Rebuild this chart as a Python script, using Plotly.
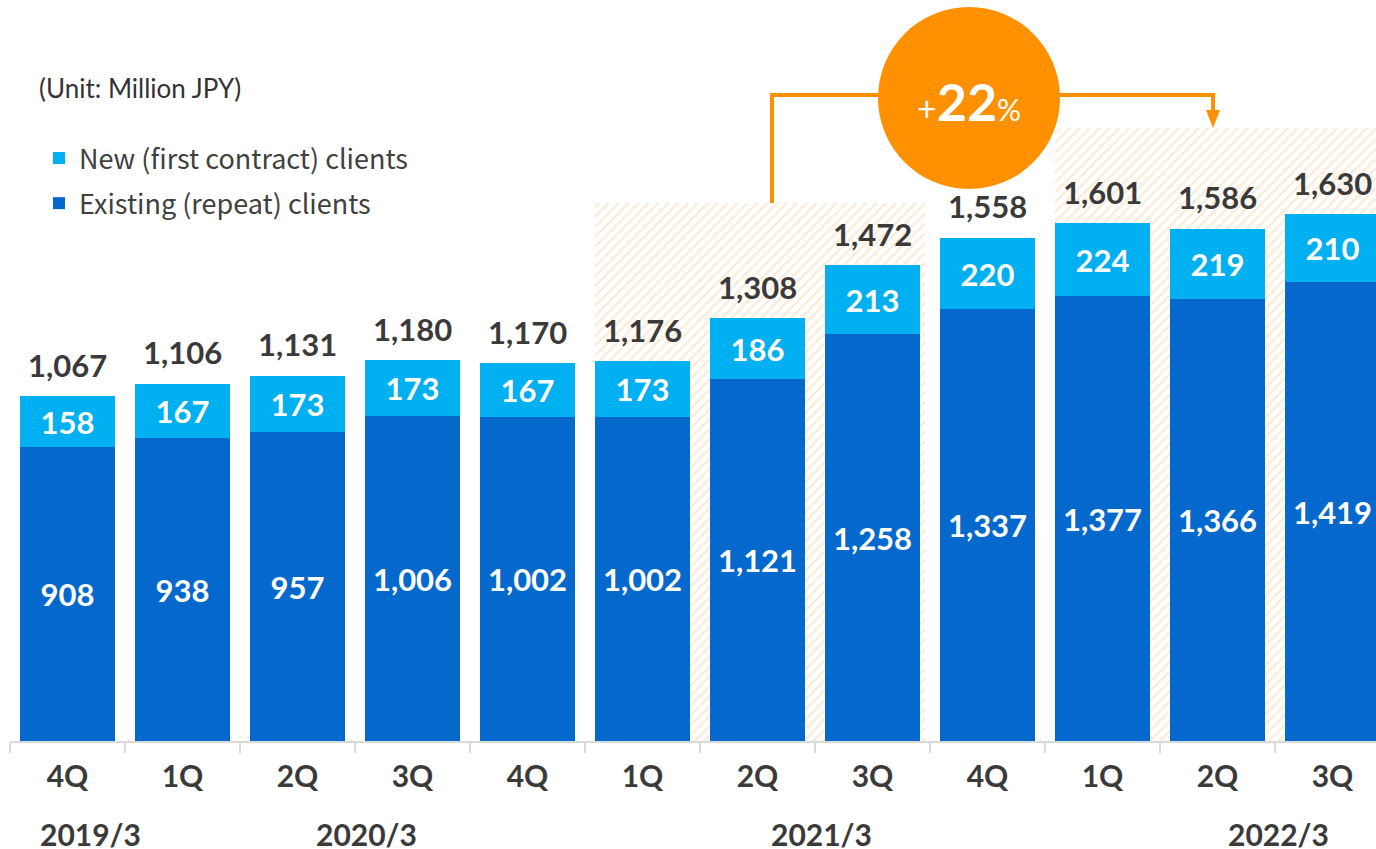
import plotly.graph_objects as go

# ---------------- data ----------------
quarters = ["4Q", "1Q", "2Q", "3Q", "4Q", "1Q", "2Q", "3Q", "4Q", "1Q", "2Q", "3Q"]
existing = [908, 938, 957, 1006, 1002, 1002, 1121, 1258, 1337, 1377, 1366, 1419]
new = [158, 167, 173, 173, 167, 173, 186, 213, 220, 224, 219, 210]
totals = [1067, 1106, 1131, 1180, 1170, 1176, 1308, 1472, 1558, 1601, 1586, 1630]
fiscal_years = ["2019/3", "2020/3", "2021/3", "2022/3"]
year_label_pos = [0.2, 2.6, 6.56, 10.53]
growth_label = "22"

# ---------------- styles ----------------
W, H = 1376, 849
ML, MR, MT, MB = 10, 0, 0, 108
PLOT_W = W - ML - MR
PLOT_H = H - MT - MB
CAT_PX = 115.0
Y_MAX = 2292.0

C_EXIST = "#0568CC"
C_NEW = "#00B0F0"
C_ORANGE = "#FF9000"
C_TEXT = "#3a3a3a"
FONT = "Lato"

x = list(range(len(quarters)))


def px_x(px):
    return (px - ML) / PLOT_W


def px_y(py):
    return (MT + PLOT_H - py) / PLOT_H


def data_y(py):
    return (MT + PLOT_H - py) / PLOT_H * Y_MAX


fig = go.Figure()

# hatched highlight areas (behind bars)
hatch_groups = [(6.02, 203), (10.02, 128)]
for cx, top_px in hatch_groups:
    fig.add_trace(go.Bar(
        x=[cx], y=[data_y(top_px)], width=2.87, base=0,
        marker=dict(color="white", line=dict(width=0),
                    pattern=dict(shape="/", fgcolor="#FAD3A6", bgcolor="white",
                                 size=7, solidity=0.3)),
        showlegend=False, hoverinfo="skip",
    ))

fig.add_trace(go.Bar(
    x=x, y=new, base=existing, width=0.82, name="New (first contract) clients",
    marker=dict(color=C_NEW, line=dict(width=0)),
    text=[f"{v:,}" for v in new], textposition="inside",
    insidetextanchor="middle", textangle=0,
    textfont=dict(family=FONT, size=31, color="white", weight="bold"),
    legendgroup="a",
))
fig.add_trace(go.Bar(
    x=x, y=existing, base=0, width=0.82, name="Existing (repeat) clients",
    marker=dict(color=C_EXIST, line=dict(width=0)),
    text=[f"{v:,}" for v in existing], textposition="inside",
    insidetextanchor="middle", textangle=0,
    textfont=dict(family=FONT, size=31, color="white", weight="bold"),
    legendgroup="b",
))

# totals
for xi, t in zip(x, totals):
    fig.add_annotation(x=xi, y=t, text=f"{t:,}", showarrow=False,
                       yanchor="middle", yshift=31,
                       font=dict(family=FONT, size=31, color=C_TEXT, weight="bold"))

# fiscal year labels
for lab, pos in zip(fiscal_years, year_label_pos):
    fig.add_annotation(x=pos, y=px_y(834), xref="x", yref="paper", text=lab,
                       showarrow=False, yanchor="middle",
                       font=dict(family=FONT, size=30, color=C_TEXT, weight="bold"))

# unit label
fig.add_annotation(x=px_x(37), y=px_y(88), xref="paper", yref="paper",
                   text="(Unit: Million JPY)", showarrow=False,
                   xanchor="left", yanchor="middle",
                   font=dict(family=FONT, size=26, color="#333333"))

# growth arrow
lw = 4
xl, xr, ytop = 772, 1213, 95
fig.add_shape(type="line", xref="paper", yref="paper",
              x0=px_x(xl), x1=px_x(xl), y0=px_y(203), y1=px_y(ytop - lw / 2),
              line=dict(color=C_ORANGE, width=lw))
fig.add_shape(type="line", xref="paper", yref="paper",
              x0=px_x(xl), x1=px_x(xr), y0=px_y(ytop), y1=px_y(ytop),
              line=dict(color=C_ORANGE, width=lw))
fig.add_shape(type="line", xref="paper", yref="paper",
              x0=px_x(xr), x1=px_x(xr), y0=px_y(ytop - lw / 2), y1=px_y(112),
              line=dict(color=C_ORANGE, width=lw))
fig.add_shape(type="path", xref="paper", yref="paper",
              path=f"M {px_x(xr - 7)},{px_y(110)} L {px_x(xr + 7)},{px_y(110)} L {px_x(xr)},{px_y(128)} Z",
              fillcolor=C_ORANGE, line=dict(width=0))
# circle
fig.add_shape(type="circle", xref="paper", yref="paper",
              x0=px_x(878), x1=px_x(1060), y0=px_y(189), y1=px_y(7),
              fillcolor=C_ORANGE, line=dict(width=0))
fig.add_annotation(x=px_x(969), y=px_y(101), xref="paper", yref="paper",
                   text=(f"<span style='font-size:34px;font-weight:normal'>+</span>"
                         f"<b>{growth_label}</b>"
                         f"<span style='font-size:30px;font-weight:normal'>%</span>"),
                   showarrow=False, xanchor="center", yanchor="middle",
                   font=dict(family=FONT, size=52, color="white"))

fig.update_layout(
    width=W, height=H,
    margin=dict(l=ML, r=MR, t=MT, b=MB),
    paper_bgcolor="white", plot_bgcolor="white",
    barmode="overlay", bargap=0,
    showlegend=True,
    legend=dict(x=px_x(39), y=px_y(134), xanchor="left", yanchor="top",
                traceorder="grouped", tracegroupgap=7,
                font=dict(family="Noto Sans CJK JP", size=27, color="#404040"),
                bgcolor="rgba(0,0,0,0)", borderwidth=0),
    xaxis=dict(range=[-0.5, -0.5 + PLOT_W / CAT_PX], tickmode="array",
               tickvals=x, ticktext=quarters, ticks="", showgrid=False,
               zeroline=False, showline=True, linecolor="#d9d9d9", linewidth=2,
               ticklabelstandoff=8,
               tickfont=dict(family=FONT, size=30, color=C_TEXT, weight="bold"),
               minor=dict(ticks="outside", tick0=0.5, dtick=1, ticklen=10,
                          tickcolor="#d9d9d9", tickwidth=2, showgrid=False)),
    yaxis=dict(range=[0, Y_MAX], visible=False),
)

fig.write_html("out.html", config={"displayModeBar": False},
               post_script="document.body.style.margin='0';document.body.style.overflow='hidden';")
